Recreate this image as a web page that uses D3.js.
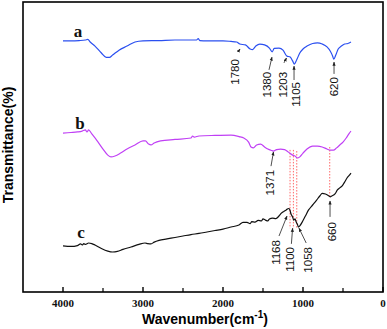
<!DOCTYPE html>
<html>
<head>
<meta charset="utf-8">
<script src="https://cdn.jsdelivr.net/npm/d3@7"></script>
<style>
html,body{margin:0;padding:0;background:#fff;}
svg{display:block;}
</style>
</head>
<body>
<svg id="chart" width="387" height="329"></svg>
<script>
// ---- data (wavenumber cm-1, transmittance in arbitrary %) ----
const wnA = [4000,3900,3800,3720,3690,3660,3600,3520,3460,3420,3380,3300,3200,3100,3000,2800,2600,2400,2330,2310,2290,2200,2000,1900,1830,1790,1720,1660,1630,1590,1540,1480,1420,1385,1360,1300,1250,1203,1160,1130,1108,1080,1040,1000,950,880,820,760,700,660,630,615,590,560,520,480,440,400];
const tA  = [86.6,86.6,86.7,86.9,87.1,86.2,84.8,82.4,80.9,80.9,81.7,83.4,84.8,86.2,86.6,86.7,86.9,86.9,86.9,87.4,86.7,86.6,86.6,86.4,86.2,85.5,85.2,83.8,83.6,84.8,85.5,85.2,84.1,82.8,84.0,84.1,83.4,81.4,81.0,79.7,78.6,80.0,82.4,83.8,84.8,85.7,85.9,85.5,84.5,83.1,81.4,80.3,81.7,83.8,84.8,85.5,85.7,86.2];

const wnB = [4000,3900,3820,3760,3720,3700,3680,3640,3580,3500,3440,3400,3350,3280,3200,3100,3000,2970,2930,2900,2860,2780,2600,2400,2380,2360,2300,2100,1900,1800,1740,1680,1650,1620,1580,1530,1480,1440,1400,1371,1330,1280,1230,1200,1168,1130,1100,1070,1040,1000,950,880,820,760,700,660,620,580,540,500,460,420,400];
const tB  = [54.8,55.0,55.2,55.5,55.9,55.2,55.9,54.5,52.4,49.3,47.2,46.6,46.9,47.9,49.3,50.7,52.1,52.1,51.0,50.7,51.4,52.1,52.6,53.1,53.8,53.4,53.8,54.0,54.1,53.6,53.1,51.7,50.0,49.7,50.7,51.0,50.0,49.3,48.9,48.6,49.1,49.3,49.1,48.6,47.9,47.2,46.9,46.2,46.6,47.9,49.3,50.3,50.3,50.0,49.3,48.9,48.9,49.7,50.7,51.7,53.1,54.8,55.5];

const wnC = [4000,3900,3820,3780,3760,3740,3720,3680,3640,3600,3520,3440,3380,3320,3250,3150,3050,2975,2940,2900,2860,2800,2700,2600,2500,2400,2300,2200,2100,2000,1900,1800,1750,1700,1660,1640,1600,1560,1520,1500,1470,1440,1420,1380,1340,1300,1270,1240,1210,1180,1168,1150,1130,1115,1100,1085,1070,1058,1040,1010,970,930,880,830,790,760,720,690,660,640,600,570,540,510,480,450,420,400];
const tC  = [15.9,15.7,16.0,16.6,16.2,16.7,16.4,16.9,16.7,16.2,15.0,14.1,13.8,14.0,14.7,15.5,16.4,16.9,16.7,16.6,17.2,17.8,18.3,18.8,19.3,19.8,20.2,20.7,21.2,21.7,22.4,23.1,24.0,24.0,23.6,24.3,24.1,24.7,24.5,25.2,24.8,24.5,25.2,25.5,25.3,26.2,27.2,27.8,28.3,28.8,28.6,26.9,25.9,24.8,25.2,24.1,23.4,22.4,22.8,24.1,26.2,28.3,30.0,31.7,33.1,34.0,33.8,33.4,32.8,33.1,33.8,35.2,35.9,36.6,37.9,39.3,40.3,41.0];

const seriesNames  = ["a","b","c"];
const seriesColors = ["#2a4ff0","#c040f5","#111111"];
const letterWn = [3812,3787,3775];
const letterT  = [87.9,56.2,18.6];

const xTicksMajor = [4000,3000,2000,1000,0];
const xTicksMinor = [3500,2500,1500,500];

// peak annotations: label, text wn, text-top value, arrow tail wn/value, arrow head wn/value
const peakLabels = ["1780","1380","1203","1105","620","1371","1168","1100","1058","660"];
const peakTextWn = [1850,1450,1250,1088,612,1412,1338,1162,938,638];
const peakTextT  = [80.3,75.9,75.9,72.4,74.1,42.1,17.9,15.5,15.5,24.1];
const peakTailWn = [1812,1425,1238,1112,612,1400,1300,1145,960,662];
const peakTailT  = [82.8,76.6,79.0,73.1,75.2,43.4,19.3,16.6,16.9,25.9];
const peakHeadWn = [1787,1388,1206,1112,612,1369,1200,1130,1050,662];
const peakHeadT  = [83.8,81.0,80.7,77.9,79.3,48.3,26.2,22.0,22.0,31.4];

// red dotted guides
const guideWn     = [1162,1120,1078,666];
const guideTopT   = [49.0,49.0,48.6,50.0];
const guideBotT   = [22.0,22.0,22.0,32.8];

// ---- drawing ----
const svg = d3.select("#chart");
const mL = 23, mR = 383, mT = 2, mB = 292;
const x = d3.scaleLinear().domain([4500,0]).range([mL,mR]);
const y = d3.scaleLinear().domain([0,100]).range([mB,mT]);

const defs = svg.append("defs");
defs.append("marker").attr("id","arr").attr("viewBox","0 0 10 10")
  .attr("refX",9).attr("refY",5).attr("markerWidth",5).attr("markerHeight",5)
  .attr("orient","auto")
  .append("path").attr("d","M0,1 L10,5 L0,9 Z").attr("fill","#222");

// guides
guideWn.forEach((w,i)=>{
  svg.append("line").attr("x1",x(w)).attr("x2",x(w))
    .attr("y1",y(guideTopT[i])).attr("y2",y(guideBotT[i]))
    .attr("stroke","#ff6a6a").attr("stroke-width",1).attr("stroke-dasharray","1.5,1.5");
});

const line = d3.line().x(d=>x(d[0])).y(d=>y(d[1])).curve(d3.curveMonotoneX);
const data = [d3.zip(wnA,tA), d3.zip(wnB,tB), d3.zip(wnC,tC)];
data.forEach((d,i)=>{
  svg.append("path").datum(d).attr("d",line)
    .attr("fill","none").attr("stroke",seriesColors[i]).attr("stroke-width",1.2)
    .attr("stroke-linejoin","round");
  svg.append("text").attr("x",x(letterWn[i])).attr("y",y(letterT[i]))
    .attr("text-anchor","middle")
    .attr("font-family","'Liberation Serif','Times New Roman',serif")
    .attr("font-weight","bold").attr("font-size",17).attr("fill","#111")
    .text(seriesNames[i]);
});

// annotations
peakLabels.forEach((lab,i)=>{
  svg.append("line")
    .attr("x1",x(peakTailWn[i])).attr("y1",y(peakTailT[i]))
    .attr("x2",x(peakHeadWn[i])).attr("y2",y(peakHeadT[i]))
    .attr("stroke","#222").attr("stroke-width",0.8).attr("marker-end","url(#arr)");
  svg.append("text")
    .attr("transform",`translate(${x(peakTextWn[i])+4},${y(peakTextT[i])}) rotate(-90)`)
    .attr("text-anchor","end")
    .attr("font-family","'Liberation Sans',Arial,sans-serif")
    .attr("font-size",11.5).attr("fill","#111")
    .text(lab);
});

// frame
svg.append("rect").attr("x",mL).attr("y",mT).attr("width",mR-mL).attr("height",mB-mT)
  .attr("fill","none").attr("stroke","#000").attr("stroke-width",1.6);

// x ticks
const xAxis = svg.append("g");
xTicksMajor.forEach(t=>{
  xAxis.append("line").attr("x1",x(t)).attr("x2",x(t)).attr("y1",mB).attr("y2",mB-5)
    .attr("stroke","#000").attr("stroke-width",1.4);
  xAxis.append("text").attr("x",x(t)).attr("y",mB+15).attr("text-anchor","middle")
    .attr("font-family","'Liberation Serif','Times New Roman',serif")
    .attr("font-weight","bold").attr("font-size",11).attr("fill","#111").text(t);
});
xTicksMinor.forEach(t=>{
  xAxis.append("line").attr("x1",x(t)).attr("x2",x(t)).attr("y1",mB).attr("y2",mB-4)
    .attr("stroke","#000").attr("stroke-width",1.2);
});

// axis titles
const xt = svg.append("text").attr("x",205).attr("y",324).attr("text-anchor","middle")
  .attr("font-family","'Liberation Sans',Arial,sans-serif").attr("font-weight","bold")
  .attr("font-size",14).attr("fill","#000");
xt.append("tspan").text("Wavenumber(cm");
xt.append("tspan").attr("dy",-6).attr("font-size",10).text("-1");
xt.append("tspan").attr("dy",6).text(")");

svg.append("text").attr("transform","translate(13,145) rotate(-90)")
  .attr("text-anchor","middle")
  .attr("font-family","'Liberation Sans',Arial,sans-serif").attr("font-weight","bold")
  .attr("font-size",14).attr("fill","#000").text("Transmittance(%)");
</script>
</body>
</html>
